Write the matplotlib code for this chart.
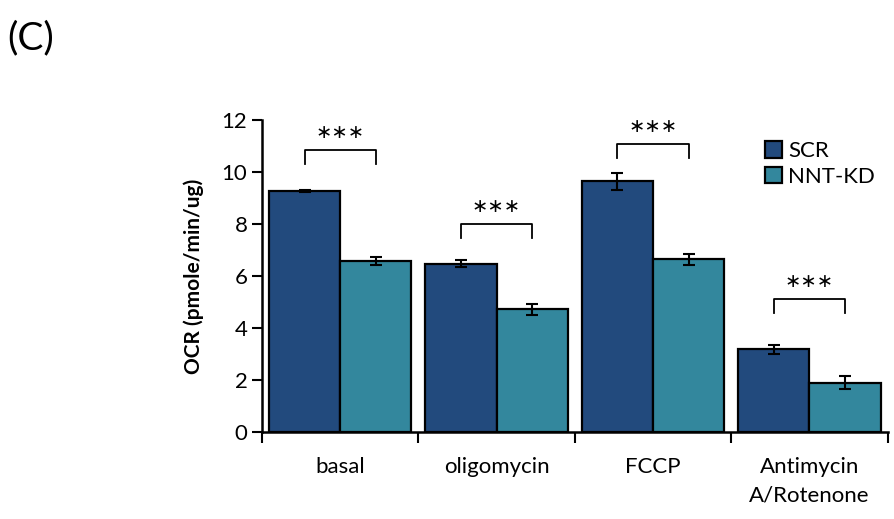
import numpy as np
import matplotlib.pyplot as plt

plt.rcParams['font.family'] = ['Lato', 'DejaVu Sans']

categories = ['basal', 'oligomycin', 'FCCP', 'Antimycin\nA/Rotenone']
scr = [9.27, 6.48, 9.64, 3.19]
scr_err = [0.05, 0.12, 0.32, 0.18]
nnt = [6.58, 4.72, 6.65, 1.91]
nnt_err = [0.17, 0.2, 0.21, 0.26]
sig_labels = ['***', '***', '***', '***']
bracket_y = [10.86, 8.0, 11.08, 5.13]

c_scr = '#224A7D'
c_nnt = '#33879D'

fig = plt.figure(figsize=(8.95, 5.19), dpi=100)
ax = fig.add_axes([0.2927, 0.167, 0.699, 0.602])

x = np.arange(len(categories))
w = 0.455
ekw = dict(elinewidth=1.5, capthick=1.5, ecolor='black')
ax.bar(x - w/2, scr, w, yerr=scr_err, color=c_scr, edgecolor='black',
       linewidth=1.6, capsize=4, error_kw=ekw, label='SCR')
ax.bar(x + w/2, nnt, w, yerr=nnt_err, color=c_nnt, edgecolor='black',
       linewidth=1.6, capsize=4, error_kw=ekw, label='NNT-KD')

# significance brackets
for i, (lab, yb) in enumerate(zip(sig_labels, bracket_y)):
    x1, x2 = i - w/2, i + w/2
    ax.plot([x1, x1, x2, x2], [yb - 0.55, yb, yb, yb - 0.55], color='black',
            lw=1.3, solid_joinstyle='round', clip_on=False)
    ax.text(i, yb + 0.3, '\u2217\u2217\u2217', ha='center', va='bottom',
            fontsize=14, family=['DejaVu Sans'])

ax.set_xlim(-0.5, len(categories) - 0.5)
ax.set_ylim(0, 12)
ax.set_yticks(range(0, 13, 2))
ax.tick_params(axis='y', labelsize=16, length=7, width=1.5, direction='out')
ax.set_xticks(np.arange(-0.5, len(categories), 1))
ax.set_xticklabels([])
ax.tick_params(axis='x', length=8, width=1.5, direction='out')
for i, c in enumerate(categories):
    ax.text(i, -0.95, c, ha='center', va='top', fontsize=16, linespacing=1.55,
            transform=ax.transData)

for s in ['top', 'right']:
    ax.spines[s].set_visible(False)
for s in ['left', 'bottom']:
    ax.spines[s].set_linewidth(1.8)

ax.set_ylabel('OCR (pmole/min/ug)', fontsize=15, fontweight='bold', labelpad=13)

fig.legend(loc='upper left', bbox_to_anchor=(0.845, 0.745), frameon=False,
           fontsize=16, handlelength=0.75, handleheight=0.75, handletextpad=0.3,
           labelspacing=0.25, borderaxespad=0)

fig.text(0.008, 0.96, '(C)', fontsize=28, va='top', ha='left')

fig.savefig('out.png', dpi=100)
